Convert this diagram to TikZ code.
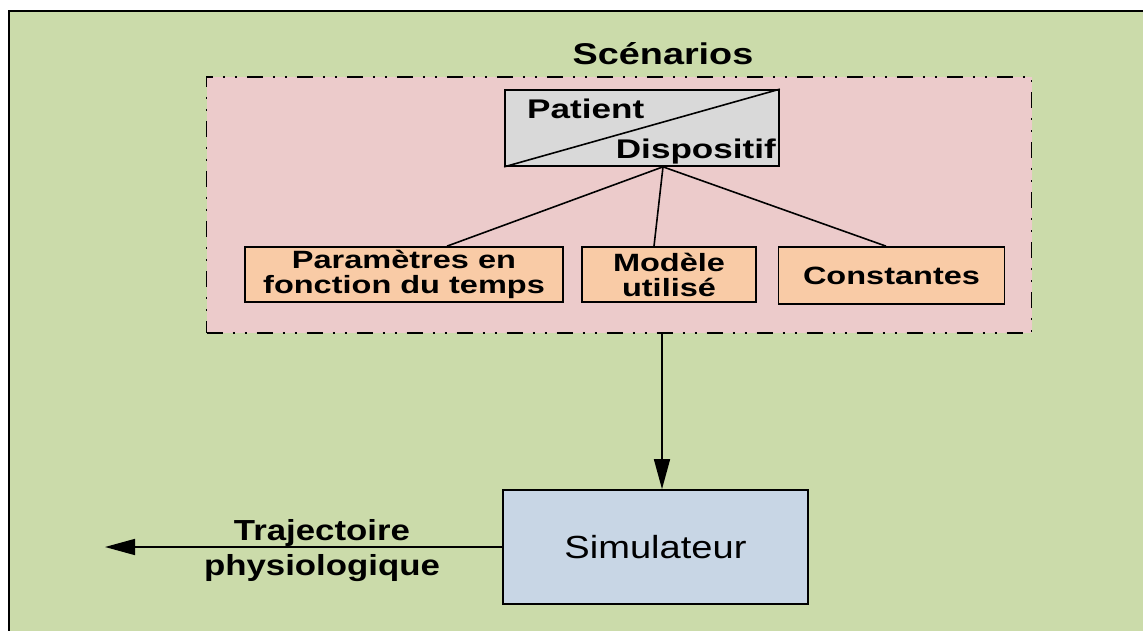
\documentclass[tikz,border=0pt]{standalone}
\usepackage{fontspec}
\setmainfont{Liberation Sans}
\newfontfamily\bw[FakeStretch=1.3]{Liberation Sans}
\newfontfamily\bs[FakeStretch=1.26]{Liberation Sans}
\newfontfamily\bt[FakeStretch=1.2]{Liberation Sans}
\newfontfamily\sw[FakeStretch=1.19]{Liberation Sans}
\usetikzlibrary{arrows.meta,calc}
\definecolor{bggreen}{RGB}{203,219,170}
\definecolor{scpink}{RGB}{236,203,203}
\definecolor{boxor}{RGB}{249,203,166}
\definecolor{boxgray}{RGB}{217,217,217}
\definecolor{boxblue}{RGB}{200,214,229}
\tikzset{
  conn/.style={line width=1.6pt},
  arr/.style={line width=1.6pt,-{Triangle[length=30pt,width=16pt]}},
  orbox/.style={draw,line width=1.7pt,fill=boxor,inner sep=0pt,align=center,
    font=\bw\bfseries\fontsize{25}{28}\selectfont},
  lbl/.style={inner sep=0pt,font=\bw\bfseries\fontsize{27}{28}\selectfont},
}
\begin{document}
\begin{tikzpicture}[x=1pt,y=-1pt]
\useasboundingbox (0,0) rectangle (1143,631);
\clip (0,0) rectangle (1143,631);
\fill[bggreen] (9,11) rectangle (1160,650);
\draw[line width=2.5pt] (1160,11) -- (9,11) -- (9,650);
% scenarios frame
\node[draw,fill=scpink,line width=1.7pt,dash pattern=on 16pt off 10pt on 2pt off 10pt on 2pt off 10pt,
  minimum width=825pt,minimum height=256pt,inner sep=0pt] (scen) at (619,205) {};
\node[inner sep=0pt,font=\bs\bfseries\fontsize{30}{32}\selectfont,anchor=base] (scentitle) at (663,65) {Scénarios};
% patient / dispositif
\node[draw,fill=boxgray,line width=1.7pt,minimum width=274pt,minimum height=76pt,inner sep=0pt] (pd) at (642,128) {};
\draw[conn] (pd.south west) -- (pd.north east);
\node[lbl,anchor=base west] (pat) at (527,119) {Patient};
\node[lbl,anchor=base east] (dis) at (776,159) {Dispositif};
% three boxes
\node[orbox,minimum width=318pt,minimum height=55pt] (param) at (404,274.5)
  {Paramètres en\\[-3pt]fonction du temps};
\node[orbox,minimum width=174pt,minimum height=55pt] (mod) at (669,274.5)
  {Modèle\\[-3pt]utilisé};
\node[orbox,minimum width=226pt,minimum height=57pt] (cst) at (891.5,275.5)
  {Constantes};
\draw[conn] ([xshift=21pt]pd.south) -- ([xshift=43pt]param.north);
\draw[conn] ([xshift=21pt]pd.south) -- ([xshift=-15pt]mod.north);
\draw[conn] ([xshift=21pt]pd.south) -- ([xshift=-5.5pt]cst.north);
% simulator
\node[draw,fill=boxblue,line width=1.7pt,minimum width=305pt,minimum height=114pt,inner sep=0pt,
  font=\sw\fontsize{32}{34}\selectfont] (sim) at (655.5,547) {Simulateur};
\draw[arr] (scen.south -| 662,0) -- (sim.north -| 662,0);
\coordinate (out) at (105,547);
\draw[arr] (sim.west |- out) -- (out);
\node[inner sep=0pt,align=center,font=\bt\bfseries\fontsize{29}{35}\selectfont] (traj) at (322,551)
  {Trajectoire\\physiologique};
\end{tikzpicture}
\end{document}
